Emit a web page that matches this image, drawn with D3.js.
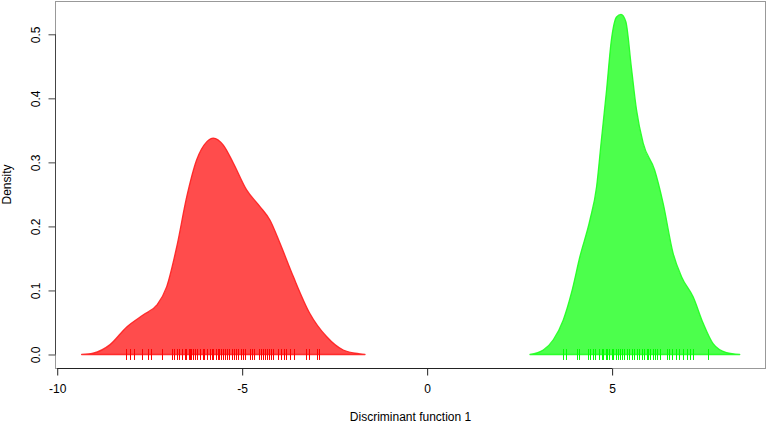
<!DOCTYPE html>
<html>
<head>
<meta charset="utf-8">
<script src="https://cdn.jsdelivr.net/npm/d3@7"></script>
<style>
  body { margin: 0; background: #fff; }
  svg { display: block; font-family: "Liberation Sans", Arial, sans-serif; }
</style>
</head>
<body>
<svg id="chart" width="767" height="423"></svg>
<script>
// ---- data ----
const redX = [-9.34, -9.03, -8.58, -8.12, -7.67, -7.31, -7.04, -6.77, -6.50, -6.23, -5.96, -5.78, -5.51, -5.24, -4.88, -4.52, -4.25, -3.98, -3.62, -3.17, -2.72, -2.27, -1.82, -1.68];
const redD = [0, 0.002, 0.015, 0.043, 0.062, 0.077, 0.106, 0.168, 0.246, 0.304, 0.332, 0.338, 0.327, 0.299, 0.257, 0.231, 0.210, 0.174, 0.122, 0.064, 0.028, 0.007, 0.001, 0];
const greenX = [2.78, 3.14, 3.41, 3.68, 3.90, 4.13, 4.40, 4.58, 4.71, 4.85, 4.98, 5.12, 5.24, 5.37, 5.52, 5.66, 5.84, 6.15, 6.38, 6.65, 6.88, 7.19, 7.46, 7.73, 8.09, 8.45];
const greenD = [0, 0.007, 0.023, 0.054, 0.096, 0.153, 0.210, 0.262, 0.335, 0.413, 0.491, 0.527, 0.531, 0.520, 0.449, 0.382, 0.330, 0.288, 0.236, 0.158, 0.121, 0.090, 0.049, 0.017, 0.003, 0];
const redRug = [-8.14, -8.04, -7.93, -7.71, -7.55, -7.47, -7.18, -6.90, -6.85, -6.77, -6.71, -6.63, -6.55, -6.52, -6.44, -6.41, -6.39, -6.33, -6.28, -6.22, -6.14, -6.06, -6.04, -5.95, -5.87, -5.82, -5.79, -5.71, -5.66, -5.63, -5.58, -5.52, -5.47, -5.41, -5.36, -5.28, -5.22, -5.17, -5.12, -5.04, -4.98, -4.93, -4.79, -4.74, -4.69, -4.55, -4.50, -4.45, -4.37, -4.34, -4.28, -4.23, -4.17, -4.04, -3.96, -3.87, -3.82, -3.71, -3.60, -3.28, -3.20, -2.98, -2.93];
const greenRug = [3.67, 3.75, 4.05, 4.10, 4.34, 4.40, 4.48, 4.53, 4.64, 4.72, 4.75, 4.83, 4.86, 4.91, 4.99, 5.02, 5.10, 5.15, 5.21, 5.26, 5.32, 5.40, 5.45, 5.53, 5.59, 5.67, 5.72, 5.80, 5.86, 5.94, 5.97, 6.02, 6.10, 6.15, 6.21, 6.29, 6.48, 6.53, 6.61, 6.72, 6.80, 6.91, 7.02, 7.10, 7.18, 7.59];
const xTicks = [-10, -5, 0, 5];
const yTicks = [0, 0.1, 0.2, 0.3, 0.4, 0.5];
const yTickLabels = ["0.0", "0.1", "0.2", "0.3", "0.4", "0.5"];
const xLabel = "Discriminant function 1";
const yLabel = "Density";

// ---- layout ----
const W = 767, H = 423;
const L = 55, R = 766, T = 1, B = 368;
const svg = d3.select("#chart");

const x = d3.scaleLinear().domain([-10.06, 9.16]).range([L, R]);
const y = d3.scaleLinear().domain([-0.0211, 0.552]).range([B, T]);

// densities
const area = d3.area()
  .x(d => x(d[0]))
  .y0(y(0))
  .y1(d => y(d[1]))
  .curve(d3.curveMonotoneX);

function drawDensity(xs, ds, fill, stroke) {
  const pts = xs.map((v, i) => [v, ds[i]]);
  svg.append("path")
    .datum(pts)
    .attr("d", area)
    .attr("fill", fill)
    .attr("stroke", stroke)
    .attr("stroke-width", 1.3)
    .attr("stroke-linejoin", "round");
}
drawDensity(redX, redD, "rgba(255,0,0,0.7)", "rgba(255,30,30,0.9)");
drawDensity(greenX, greenD, "rgba(0,255,0,0.7)", "rgba(30,255,30,0.9)");

// rugs
function drawRug(vals, color) {
  svg.append("g").selectAll("line")
    .data(vals).join("line")
    .attr("x1", d => Math.round(x(d)) + 0.5)
    .attr("x2", d => Math.round(x(d)) + 0.5)
    .attr("y1", y(0) - 5.5)
    .attr("y2", y(0) + 5.5)
    .attr("stroke", color)
    .attr("stroke-width", 1);
}
drawRug(redRug, "#ff0000");
drawRug(greenRug, "#00ff00");

// box
svg.append("rect")
  .attr("x", L + 0.5).attr("y", T + 0.5)
  .attr("width", R - L - 1).attr("height", B - T)
  .attr("fill", "none")
  .attr("stroke", "#999")
  .attr("stroke-width", 1);

// x axis
const xAxis = d3.axisBottom(x).tickValues(xTicks).tickSize(7).tickPadding(9)
  .tickFormat(d => d);
const gx = svg.append("g").attr("transform", `translate(0,${B + 0.5})`).call(xAxis);
gx.select(".domain").attr("d", `M${x(xTicks[0])},0H${x(xTicks[xTicks.length - 1])}`)
  .attr("stroke", "#222");
gx.selectAll(".tick line").attr("stroke", "#222");
gx.selectAll(".tick text").attr("font-size", 12).attr("fill", "#000")
  .attr("font-family", "Liberation Sans, Arial, sans-serif");

// y axis
const yAxis = d3.axisLeft(y).tickValues(yTicks).tickSize(7).tickPadding(0)
  .tickFormat((d, i) => yTickLabels[i]);
const gy = svg.append("g").attr("transform", `translate(${L + 0.5},0)`).call(yAxis);
gy.select(".domain").attr("d", `M0,${y(yTicks[0])}V${y(yTicks[yTicks.length - 1])}`)
  .attr("stroke", "#444");
gy.selectAll(".tick line").attr("stroke", "#444");
gy.selectAll(".tick text")
  .attr("font-size", 12).attr("fill", "#000")
  .attr("font-family", "Liberation Sans, Arial, sans-serif")
  .attr("x", null).attr("dy", null)
  .attr("text-anchor", "middle")
  .attr("transform", "translate(-16,0) rotate(-90)")
  .attr("dominant-baseline", "auto")
  .attr("y", 0);

// labels
svg.append("text")
  .attr("x", (L + R) / 2).attr("y", 421)
  .attr("text-anchor", "middle")
  .attr("font-size", 12)
  .text(xLabel);
svg.append("text")
  .attr("transform", `translate(11,${(T + B) / 2}) rotate(-90)`)
  .attr("text-anchor", "middle")
  .attr("font-size", 12)
  .text(yLabel);
</script>
</body>
</html>
